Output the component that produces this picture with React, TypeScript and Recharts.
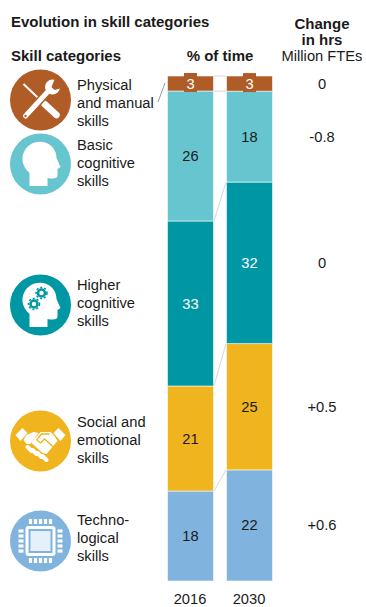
import { BarChart, Bar, XAxis, YAxis, LabelList } from "recharts";

const YEARS = ["2016", "2030"];
const PHYSICAL = [3, 3];
const BASIC = [26, 18];
const HIGHER = [33, 32];
const SOCIAL = [21, 25];
const TECH = [18, 22];
const CHANGES = ["0", "-0.8", "0", "+0.5", "+0.6"];

const BROWN = "#B05C27";
const LIGHT_TEAL = "#67C5D0";
const TEAL = "#0097A5";
const GOLD = "#F0B51E";
const BLUE = "#80B3DE";
const FONT = "'Liberation Sans', Arial, sans-serif";
const INK = "#1a1a1a";
const BODY_SIZE = 14.7;

// stacked bottom to top, each with the label colour used inside the bar
const SERIES = [
  { key: "tech", values: TECH, fill: BLUE, text: INK, change: CHANGES[4] },
  { key: "social", values: SOCIAL, fill: GOLD, text: INK, change: CHANGES[3] },
  { key: "higher", values: HIGHER, fill: TEAL, text: "#fff", change: CHANGES[2] },
  { key: "basic", values: BASIC, fill: LIGHT_TEAL, text: INK, change: CHANGES[1] },
  { key: "physical", values: PHYSICAL, fill: BROWN, text: "#fff", change: CHANGES[0] },
];

const rows = YEARS.map((year, i) => {
  const row: Record<string, string | number> = { year };
  SERIES.forEach((s) => (row[s.key] = s.values[i]));
  return row;
});

const CATEGORY_LABELS = [
  { lines: ["Physical", "and manual", "skills"], y: 85 },
  { lines: ["Basic", "cognitive", "skills"], y: 145 },
  { lines: ["Higher", "cognitive", "skills"], y: 285 },
  { lines: ["Social and", "emotional", "skills"], y: 422 },
  { lines: ["Techno-", "logical", "skills"], y: 520 },
];

const share = (s: number, i: number) => {
  const total = SERIES.reduce((sum, d) => sum + d.values[i], 0);
  return SERIES.slice(0, s + 1).reduce((sum, d) => sum + d.values[i], 0) / total;
};

// bar segment plus the thin connector running across to the 2030 stack
function Segment(props: any) {
  const { x, y, width, height, index, fill, seriesIndex, value } = props;
  const [lo, hi] = value;
  const perShare = height / (hi - lo);
  const base = y + height + lo * perShare;
  const gap = 13;
  return (
    <g>
      <rect x={x} y={y} width={width} height={height} fill={fill} stroke="#fff" strokeOpacity={0.75} strokeWidth={0.75} />
      {index === 0 && (
        <line
          x1={x + width + 0.5}
          y1={y}
          x2={x + width + gap - 0.5}
          y2={base - share(seriesIndex, 1) * perShare}
          stroke="#d6d6d6"
          strokeWidth={1}
        />
      )}
    </g>
  );
}

function SegmentLabel(props: any) {
  const { x, y, width, height, index, value, text, boxed, change } = props;
  const cx = x + width / 2;
  const cy = y + height / 2;
  return (
    <g fontFamily={FONT} fontSize={BODY_SIZE}>
      {boxed && <rect x={cx - 6.5} y={cy - 10.5} width={13} height={19} fill={BROWN} />}
      <text x={cx} y={cy + 5} textAnchor="middle" fill={text}>
        {value}
      </text>
      {index === 1 && (
        <text x={322} y={cy + 5} textAnchor="middle" fill={INK}>
          {change}
        </text>
      )}
    </g>
  );
}

function Heading({ x, y, anchor, children }: any) {
  return (
    <text x={x} y={y} textAnchor={anchor} fontFamily={FONT} fontSize={15} fontWeight="bold" fill={INK}>
      {children}
    </text>
  );
}

function Tools({ cx, cy }: any) {
  return (
    <g transform={`translate(${cx} ${cy})`}>
      <circle r={30.5} fill={BROWN} />
      <line x1={-17} y1={-16} x2={3} y2={3} stroke="#fff" strokeWidth={2} />
      <line x1={4} y1={4} x2={16} y2={15} stroke="#fff" strokeWidth={6.5} strokeLinecap="round" />
      <line x1={-15} y1={16} x2={7} y2={-8} stroke={BROWN} strokeWidth={8} />
      <line x1={-15} y1={16} x2={7} y2={-8} stroke="#fff" strokeWidth={5} strokeLinecap="round" />
      <circle cx={-15} cy={16} r={1.2} fill={BROWN} />
      <circle cx={12} cy={-13} r={7.5} fill="#fff" />
      <path d="M11 -13 L15 -23 L25 -13 L14 -10 Z" fill={BROWN} />
    </g>
  );
}

const HEAD_PATH =
  "M-11 22 L-11 9 C-18 3 -20 -6 -16 -13 C-12 -21 -2 -24 6 -21 C13 -18 16 -12 16 -6 L20 3 L17 5 L17 11 C17 15 13 15 7 14 L7 22 Z";

function Head({ cx, cy, fill, gears }: any) {
  return (
    <g transform={`translate(${cx} ${cy})`}>
      <circle r={30.5} fill={fill} />
      <path d={HEAD_PATH} fill="#fff" />
      {gears && (
        <g fill="none" stroke={fill}>
          <circle cx={1} cy={-12} r={3.5} strokeWidth={2.5} />
          <circle cx={1} cy={-12} r={5.5} strokeWidth={1.6} strokeDasharray="2 2" />
          <circle cx={-6.5} cy={-1} r={3.5} strokeWidth={2.5} />
          <circle cx={-6.5} cy={-1} r={5.5} strokeWidth={1.6} strokeDasharray="2 2" />
        </g>
      )}
    </g>
  );
}

function Handshake({ cx, cy }: any) {
  const fingers = [-13, -8, -3, 2];
  return (
    <g transform={`translate(${cx} ${cy})`}>
      <circle r={30.5} fill={GOLD} />
      <path d="M-25 -6 L-18 -13 L-13 -8 L-20 0 Z" fill="#fff" />
      <path d="M25 -6 L18 -13 L13 -8 L20 0 Z" fill="#fff" />
      <path d="M-14 -6 L-7 -9 L-2 -8 L-10 3 L-14 3 L-17 -1 Z" fill="#fff" />
      <path d="M-7 -1 L0 -9 L10 -9 L14 -5 L17 0 L6 13 L2 12 L-9 2 Z" fill="#fff" />
      <path d="M-4 -1 L1 -7 L9 -7 M-4 -1 L0 2 L4 -2 L13 6" fill="none" stroke={GOLD} strokeWidth={1.3} />
      {fingers.map((f, i) => (
        <line
          key={f}
          x1={f}
          y1={6 + i * 3}
          x2={f + 4}
          y2={10 + i * 3}
          stroke="#fff"
          strokeWidth={4}
          strokeLinecap="round"
        />
      ))}
    </g>
  );
}

function Chip({ cx, cy }: any) {
  const pins = [-10, -5, 0, 5, 10];
  return (
    <g transform={`translate(${cx} ${cy})`}>
      <circle r={30.5} fill={BLUE} />
      <rect x={-15} y={-15} width={30} height={30} rx={3} fill="#fff" />
      <rect x={-12} y={-12} width={24} height={24} fill={BLUE} />
      <rect x={-10} y={-10} width={20} height={20} fill="#e6f0f8" />
      {pins.map((p) => (
        <g key={p} fill="#fff">
          <rect x={p - 1.6} y={-22} width={3.2} height={5} />
          <rect x={p - 1.6} y={17} width={3.2} height={5} />
          <rect x={-22} y={p - 1.6} width={5} height={3.2} />
          <rect x={17} y={p - 1.6} width={5} height={3.2} />
        </g>
      ))}
    </g>
  );
}

export default function App() {
  return (
    <div style={{ position: "absolute", left: 0, top: 0, background: "#fff" }}>
      <BarChart
        width={366}
        height={607}
        data={rows}
        stackOffset="expand"
        barSize={46}
        margin={{ top: 76, right: 87.5, bottom: 0, left: 160.5 }}
      >
        <XAxis
          dataKey="year"
          axisLine={false}
          tickLine={false}
          tickMargin={7}
          height={26}
          tick={{ fontFamily: FONT, fontSize: BODY_SIZE, fill: INK }}
        />
        <YAxis hide domain={[0, 1]} />
        {SERIES.map((s, si) => (
          <Bar
            key={s.key}
            dataKey={s.key}
            stackId="time"
            fill={s.fill}
            isAnimationActive={false}
            shape={(p: any) => <Segment {...p} seriesIndex={si} />}
          >
            <LabelList
              dataKey={s.key}
              content={(p: any) => (
                <SegmentLabel {...p} text={s.text} boxed={s.key === "physical"} change={s.change} />
              )}
            />
          </Bar>
        ))}

        <Heading x={11} y={27}>Evolution in skill categories</Heading>
        <Heading x={11} y={61}>Skill categories</Heading>
        <Heading x={220} y={61} anchor="middle">% of time</Heading>
        <Heading x={322} y={29} anchor="middle">Change</Heading>
        <Heading x={322} y={45} anchor="middle">in hrs</Heading>
        <text x={322} y={61} textAnchor="middle" fontFamily={FONT} fontSize={BODY_SIZE} fill={INK}>Million FTEs</text>

        {CATEGORY_LABELS.map((c) =>
          c.lines.map((line, i) => (
            <text key={c.y + line} x={77} y={c.y + 5 + i * 18.2} fontFamily={FONT} fontSize={BODY_SIZE} fill={INK}>
              {line}
            </text>
          ))
        )}
        <line x1={158} y1={102} x2={165} y2={83} stroke="#777" strokeWidth={0.75} />

        <Tools cx={40.5} cy={100} />
        <Head cx={40.5} cy={164} fill={LIGHT_TEAL} />
        <Head cx={40.5} cy={305} fill={TEAL} gears />
        <Handshake cx={40.5} cy={441} />
        <Chip cx={40.5} cy={541} />
      </BarChart>
    </div>
  );
}
